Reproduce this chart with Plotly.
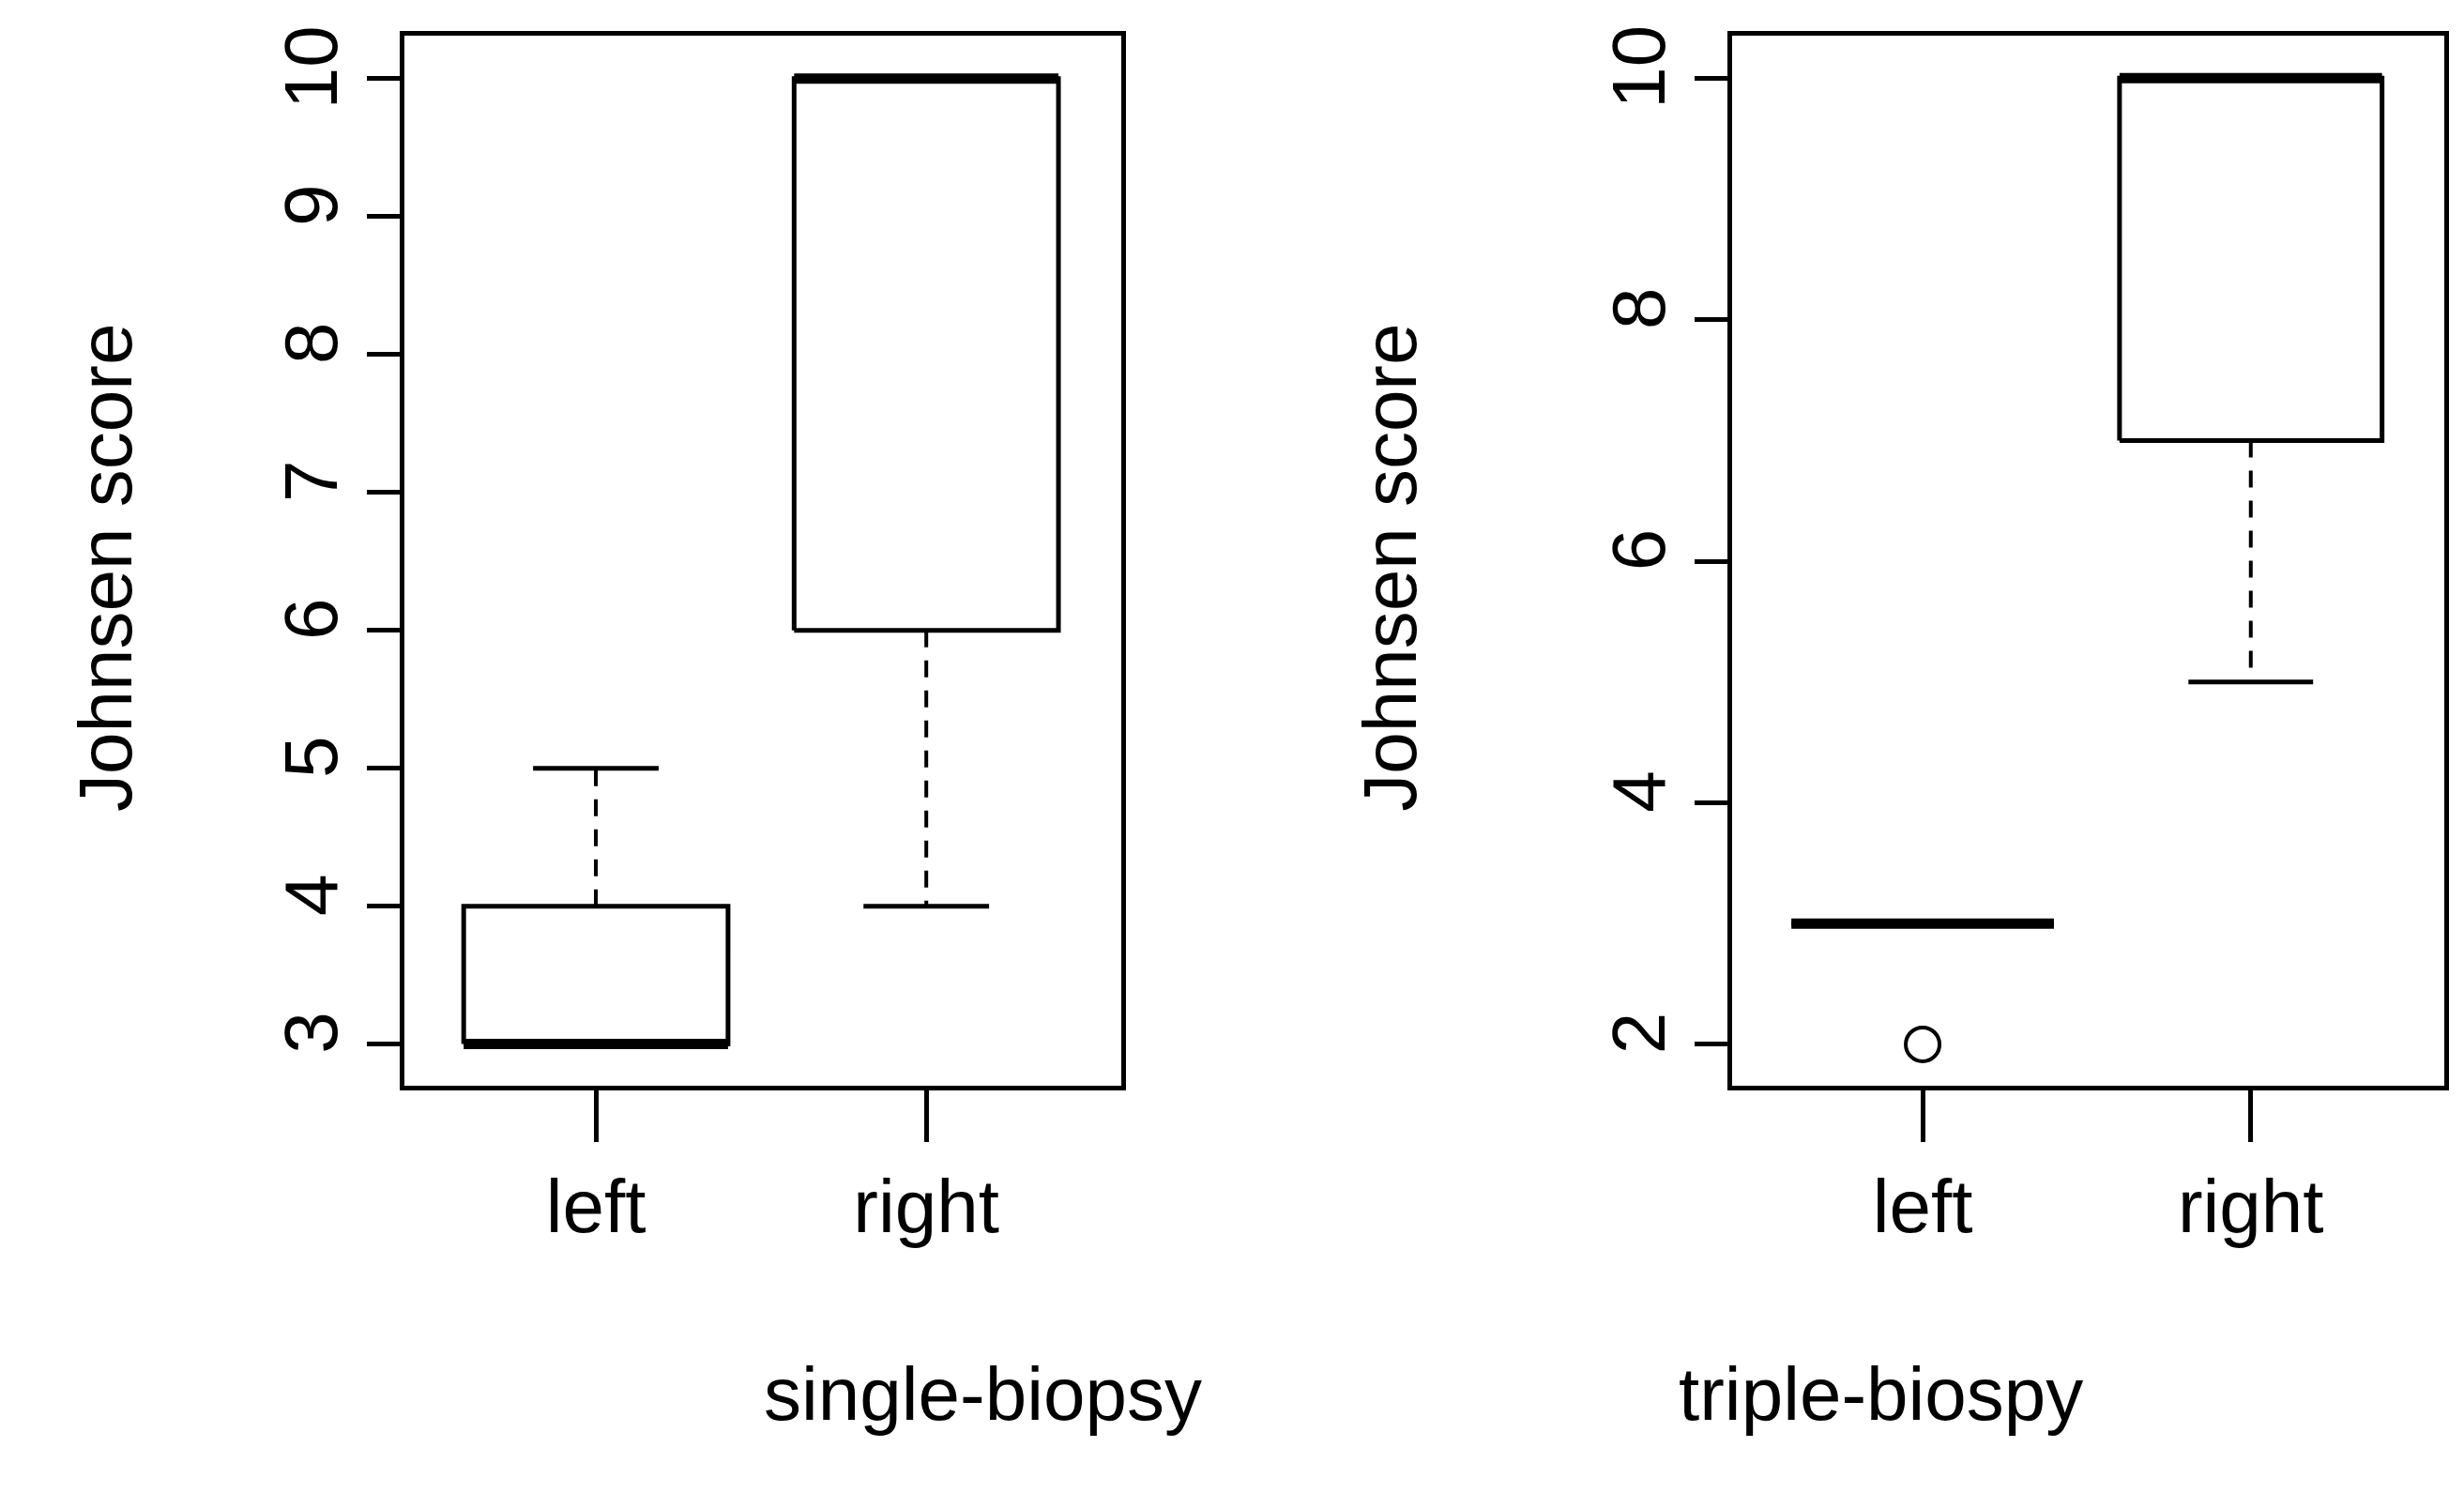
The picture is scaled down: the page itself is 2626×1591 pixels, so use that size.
import plotly.graph_objects as go

categories = ["left", "right"]
# panel 1: single-biopsy
s_min = [3, 4]; s_q1 = [3, 6]; s_med = [3, 10]; s_q3 = [4, 10]; s_max = [5, 10]
s_out = [[], []]
# panel 2: triple-biospy
t_min = [3, 5]; t_q1 = [3, 7]; t_med = [3, 10]; t_q3 = [3, 10]; t_max = [3, 10]
t_out = [[2], []]

FONT = "Liberation Sans, Arial, sans-serif"
fig = go.Figure()
HW, CW = 0.4, 0.19

def add_panel(xa, ya, mn, q1, md, q3, mx, outs):
    for i in range(len(categories)):
        x = i + 1
        L = dict(color="black", width=5)
        fig.add_trace(go.Scatter(x=[x-HW, x+HW, x+HW, x-HW, x-HW], y=[q1[i], q1[i], q3[i], q3[i], q1[i]],
                                 mode="lines", line=L, xaxis=xa, yaxis=ya, showlegend=False))
        fig.add_trace(go.Scatter(x=[x, x, None, x, x], y=[q3[i], mx[i], None, q1[i], mn[i]], mode="lines",
                                 line=dict(color="black", width=4, dash="18px,14px"), xaxis=xa, yaxis=ya, showlegend=False))
        fig.add_trace(go.Scatter(x=[x-CW, x+CW, None, x-CW, x+CW], y=[mx[i], mx[i], None, mn[i], mn[i]],
                                 mode="lines", line=L, xaxis=xa, yaxis=ya, showlegend=False))
        fig.add_trace(go.Scatter(x=[x-HW, x+HW], y=[md[i], md[i]], mode="lines",
                                 line=dict(color="black", width=11), xaxis=xa, yaxis=ya, showlegend=False))
        if outs[i]:
            fig.add_trace(go.Scatter(x=[x]*len(outs[i]), y=outs[i], mode="markers",
                                     marker=dict(symbol="circle-open", size=36, color="black", line=dict(width=4)),
                                     xaxis=xa, yaxis=ya, showlegend=False))

add_panel("x", "y", s_min, s_q1, s_med, s_q3, s_max, s_out)
add_panel("x2", "y2", t_min, t_q1, t_med, t_q3, t_max, t_out)

ax = dict(showline=True, mirror=True, linecolor="black", linewidth=5, ticks="outside",
          tickcolor="black", tickwidth=5, showgrid=False, zeroline=False, automargin=False,
          tickfont=dict(family=FONT, size=80, color="black"))
fig.update_layout(
    width=2626, height=1591, plot_bgcolor="white", paper_bgcolor="white",
    margin=dict(l=0, r=0, t=0, b=0),
    xaxis=dict(ax, domain=[0.161, 0.452], range=[0.42, 2.59], tickvals=[1, 2], ticktext=categories, ticklen=55, anchor="y"),
    xaxis2=dict(ax, domain=[0.700, 0.989], range=[0.42, 2.59], tickvals=[1, 2], ticktext=categories, ticklen=55, anchor="y2"),
    yaxis=dict(ax, domain=[0.278, 0.981], range=[2.70, 10.31], tickvals=list(range(3, 11)), ticklen=35, tickangle=-90, anchor="x"),
    yaxis2=dict(ax, domain=[0.278, 0.981], range=[1.66, 10.35], tickvals=[2, 4, 6, 8, 10], ticklen=35, tickangle=-90, anchor="x2"),
    annotations=[
        dict(text="Johnsen score", x=0.022, y=0.625, xref="paper", yref="paper", textangle=-90, showarrow=False,
             font=dict(family=FONT, size=80, color="black")),
        dict(text="Johnsen score", x=0.561, y=0.625, xref="paper", yref="paper", textangle=-90, showarrow=False,
             font=dict(family=FONT, size=80, color="black")),
        dict(text="single-biopsy", x=0.306, y=0.042, xref="paper", yref="paper", showarrow=False,
             font=dict(family=FONT, size=80, color="black")),
        dict(text="triple-biospy", x=0.843, y=0.042, xref="paper", yref="paper", showarrow=False,
             font=dict(family=FONT, size=80, color="black")),
    ],
)
fig.write_html("out.html")
